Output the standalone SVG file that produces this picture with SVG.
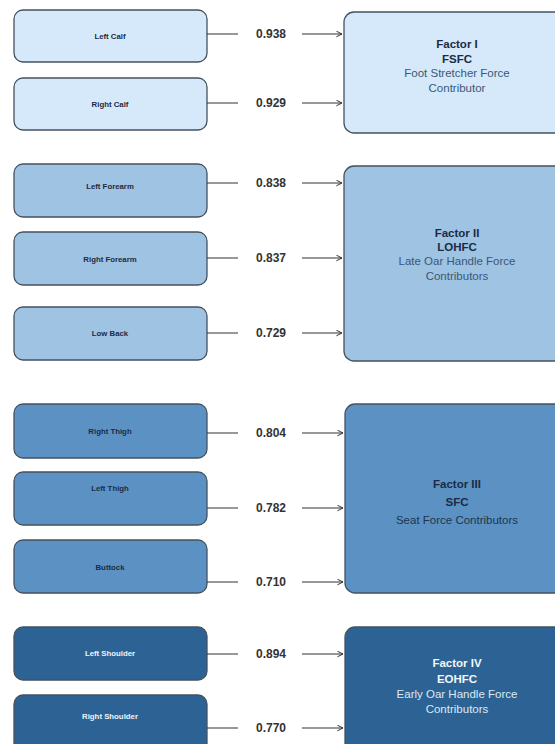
<svg xmlns="http://www.w3.org/2000/svg" width="555" height="744" viewBox="0 0 555 744">
<style>
.src{stroke:#46525f;stroke-width:1.3}
.g1{fill:#d5e9fa}.g2{fill:#9ec3e3}.g3{fill:#5b92c3}.g4{fill:#2c6394}
.lb{font-family:"Liberation Sans",Arial,sans-serif;font-size:7.8px;font-weight:bold;text-anchor:middle;fill:#1c2b45}
.lbw{fill:#eef4fa}
.val{font-family:"Liberation Sans",Arial,sans-serif;font-size:12px;font-weight:bold;fill:#333;text-anchor:middle}
.ft{font-family:"Liberation Sans",Arial,sans-serif;font-size:11.5px;text-anchor:middle;fill:#1c2b45}
.b{font-weight:bold}
.d{fill:#3a5877}
.d3{fill:#1d3550}
.w{fill:#f2f6fa}
.wd{fill:#dce8f3}
.ln{stroke:#333;stroke-width:1.2;fill:none}
</style>
<defs>
<marker id="ah" viewBox="0 0 10 10" refX="9" refY="5" markerWidth="7" markerHeight="7" orient="auto" markerUnits="userSpaceOnUse">
<path d="M1,1 L9,5 L1,9" fill="none" stroke="#333" stroke-width="1.4"/>
</marker>
</defs>
<rect width="555" height="744" fill="#fff"/>

<g id="leftcalf"><rect class="src g1" x="14" y="10" width="193" height="52" rx="9"/><text class="lb" x="110" y="39">Left Calf</text></g>
<g id="rightcalf"><rect class="src g1" x="14" y="78" width="193" height="52" rx="9"/><text class="lb" x="110" y="107">Right Calf</text></g>
<g id="factor1"><rect class="src g1" x="344" y="12" width="230" height="121" rx="10"/>
<text class="ft b" x="457" y="48">Factor I</text><text class="ft b" x="457" y="63">FSFC</text>
<text class="ft d" x="457" y="77">Foot Stretcher Force</text><text class="ft d" x="457" y="92">Contributor</text></g>

<g id="leftforearm"><rect class="src g2" x="14" y="164" width="193" height="53" rx="9"/><text class="lb" x="110" y="189">Left Forearm</text></g>
<g id="rightforearm"><rect class="src g2" x="14" y="232" width="193" height="53" rx="9"/><text class="lb" x="110" y="262">Right Forearm</text></g>
<g id="lowback"><rect class="src g2" x="14" y="307" width="193" height="53" rx="9"/><text class="lb" x="110" y="336">Low Back</text></g>
<g id="factor2"><rect class="src g2" x="344" y="166" width="230" height="195" rx="10"/>
<text class="ft b" x="457" y="237">Factor II</text><text class="ft b" x="457" y="251">LOHFC</text>
<text class="ft d" x="457" y="265">Late Oar Handle Force</text><text class="ft d" x="457" y="280">Contributors</text></g>

<g id="rightthigh"><rect class="src g3" x="14" y="404" width="193" height="54" rx="9"/><text class="lb" x="110" y="434">Right Thigh</text></g>
<g id="leftthigh"><rect class="src g3" x="14" y="472" width="193" height="53" rx="9"/><text class="lb" x="110" y="491">Left Thigh</text></g>
<g id="buttock"><rect class="src g3" x="14" y="540" width="193" height="53" rx="9"/><text class="lb" x="110" y="570">Buttock</text></g>
<g id="factor3"><rect class="src g3" x="345" y="404" width="230" height="189" rx="10"/>
<text class="ft b" x="457" y="488">Factor III</text><text class="ft b" x="457" y="506">SFC</text>
<text class="ft d3" x="457" y="524">Seat Force Contributors</text></g>

<g id="leftshoulder"><rect class="src g4" x="14" y="627" width="193" height="53" rx="9"/><text class="lb lbw" x="110" y="656">Left Shoulder</text></g>
<g id="rightshoulder"><rect class="src g4" x="14" y="695" width="193" height="60" rx="9"/><text class="lb lbw" x="110" y="719">Right Shoulder</text></g>
<g id="factor4"><rect class="src g4" x="345" y="627" width="230" height="130" rx="10"/>
<text class="ft b w" x="457" y="667">Factor IV</text><text class="ft b w" x="457" y="683">EOHFC</text>
<text class="ft wd" x="457" y="698">Early Oar Handle Force</text><text class="ft wd" x="457" y="713">Contributors</text></g>

<g id="connectors">
<path class="ln" d="M207,34 H238 M302,34 H342" marker-end="url(#ah)"/>
<path class="ln" d="M207,103 H238 M302,103 H342" marker-end="url(#ah)"/>
<path class="ln" d="M207,183 H238 M302,183 H342" marker-end="url(#ah)"/>
<path class="ln" d="M207,258 H238 M302,258 H342" marker-end="url(#ah)"/>
<path class="ln" d="M207,333 H238 M302,333 H342" marker-end="url(#ah)"/>
<path class="ln" d="M207,433 H238 M302,433 H343" marker-end="url(#ah)"/>
<path class="ln" d="M207,508 H238 M302,508 H343" marker-end="url(#ah)"/>
<path class="ln" d="M207,582 H238 M302,582 H343" marker-end="url(#ah)"/>
<path class="ln" d="M207,654 H238 M302,654 H343" marker-end="url(#ah)"/>
<path class="ln" d="M207,728 H238 M302,728 H343" marker-end="url(#ah)"/>
<text class="val" x="271" y="38">0.938</text>
<text class="val" x="271" y="107">0.929</text>
<text class="val" x="271" y="187">0.838</text>
<text class="val" x="271" y="262">0.837</text>
<text class="val" x="271" y="337">0.729</text>
<text class="val" x="271" y="437">0.804</text>
<text class="val" x="271" y="512">0.782</text>
<text class="val" x="271" y="586">0.710</text>
<text class="val" x="271" y="658">0.894</text>
<text class="val" x="271" y="732">0.770</text>
</g>
</svg>
